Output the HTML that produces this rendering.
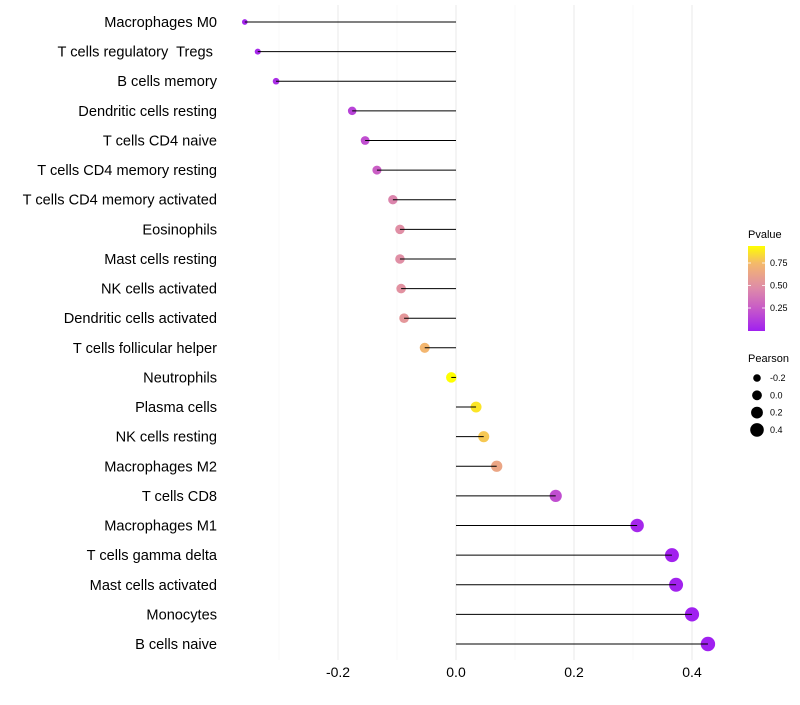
<!DOCTYPE html>
<html><head><meta charset="utf-8"><style>
body{margin:0;background:#fff;font-family:"Liberation Sans",sans-serif}
svg text{font-family:"Liberation Sans",sans-serif}
</style></head><body>
<svg id="c" width="800" height="700"></svg>
<script>
const categories=["Macrophages M0","T cells regulatory  Tregs ","B cells memory","Dendritic cells resting","T cells CD4 naive","T cells CD4 memory resting","T cells CD4 memory activated","Eosinophils","Mast cells resting","NK cells activated","Dendritic cells activated","T cells follicular helper","Neutrophils","Plasma cells","NK cells resting","Macrophages M2","T cells CD8","Macrophages M1","T cells gamma delta","Mast cells activated","Monocytes","B cells naive"];
const pearson=[-0.358,-0.336,-0.305,-0.176,-0.154,-0.134,-0.107,-0.095,-0.095,-0.093,-0.088,-0.053,-0.008,0.034,0.047,0.069,0.169,0.307,0.366,0.373,0.4,0.427];
const pvalues=[0.02,0.04,0.06,0.15,0.2,0.27,0.45,0.5,0.5,0.52,0.55,0.75,0.95,0.88,0.8,0.65,0.2,0.03,0.01,0.01,0.003,0.001];
const xTicks=[-0.2,0,0.2,0.4];
const xTickLabels=["-0.2","0.0","0.2","0.4"];
const sizeLegend=[-0.2,0,0.2,0.4];
const sizeLegendLabels=["-0.2","0.0","0.2","0.4"];
const colorTicks=[0.25,0.5,0.75];

const NS="http://www.w3.org/2000/svg",svg=document.getElementById('c');
function el(t,a,p){const e=document.createElementNS(NS,t);for(const k in a)e.setAttribute(k,a[k]);(p||svg).appendChild(e);return e;}
const x=v=>456+v*590;
const y=i=>22+i*(622/21);
const r=v=>Math.sqrt(Math.max(3,28+56*v));
const stops=[[0,[160,32,240]],[0.25,[200,90,200]],[0.5,[224,143,165]],[0.75,[243,182,111]],[0.95,[255,255,0]]];
function col(p){p=Math.min(0.95,Math.max(0,p));for(let i=0;i<stops.length-1;i++){const a=stops[i],b=stops[i+1];if(p<=b[0]){const t=(p-a[0])/(b[0]-a[0]);const c=a[1].map((v,k)=>Math.round(v+(b[1][k]-v)*t));return `rgb(${c})`;}}return 'rgb(255,255,0)';}

[-0.3,-0.1,0.1,0.3].forEach(v=>{const g=el('line',{x1:x(v),x2:x(v),y1:5,y2:660,stroke:'#f5f5f5','stroke-width':0.6});});
xTicks.forEach((v,i)=>{const g=el('line',{x1:x(v),x2:x(v),y1:5,y2:660,stroke:'#ebebeb','stroke-width':1.1});
const t=el('text',{x:x(v),y:677,'text-anchor':'middle','font-size':14,fill:'#000'});t.textContent=xTickLabels[i];});
categories.forEach((c,i)=>{
const t=el('text',{x:217,y:y(i)+5,'text-anchor':'end','font-size':14.6,fill:'#000'});t.textContent=c;t.setAttribute('xml:space','preserve');t.style.whiteSpace='pre';
const d=el('circle',{cx:x(pearson[i]),cy:y(i),r:r(pearson[i]),fill:col(pvalues[i])});
const l=el('line',{x1:x(0),x2:x(pearson[i]),y1:y(i),y2:y(i),stroke:'#000','stroke-width':1});
});
const lt=el('text',{x:748,y:238,'font-size':11});lt.textContent='Pvalue';
const defs=el('defs',{});const lg=el('linearGradient',{id:'g',x1:0,y1:1,x2:0,y2:0},defs);
for(let k=0;k<=10;k++){el('stop',{offset:k/10,'stop-color':col(k/10*0.95)},lg);}
const cb=el('rect',{x:748,y:246,width:17,height:85,fill:'url(#g)'});
const cy=p=>330.5-p*90;
colorTicks.forEach(p=>{el('line',{x1:748,x2:751,y1:cy(p),y2:cy(p),stroke:'#fff','stroke-width':0.8});el('line',{x1:762,x2:765,y1:cy(p),y2:cy(p),stroke:'#fff','stroke-width':0.8});
const t=el('text',{x:770,y:cy(p)+3,'font-size':9});t.textContent=p.toFixed(2);});
const st=el('text',{x:748,y:362,'font-size':11});st.textContent='Pearson';
const lr=[3.8,4.9,5.9,6.8];
sizeLegend.forEach((v,i)=>{const yy=378+i*17.3;const d=el('circle',{cx:757,cy:yy,r:lr[i],fill:'#000'});
const t=el('text',{x:770,y:yy+3,'font-size':9});t.textContent=sizeLegendLabels[i];});
</script>
</body></html>
